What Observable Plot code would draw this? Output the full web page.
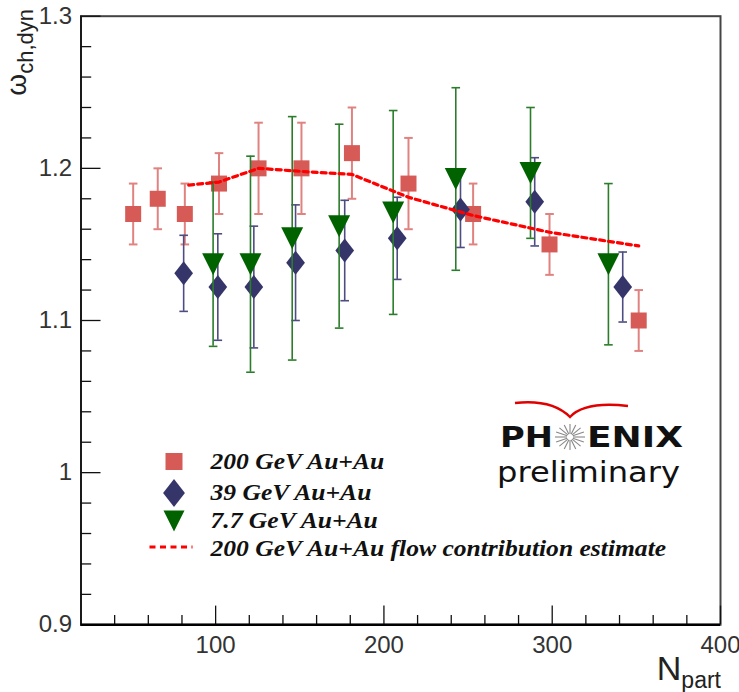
<!DOCTYPE html>
<html><head><meta charset="utf-8">
<script src="https://cdn.jsdelivr.net/npm/d3@7"></script>
<script src="https://cdn.jsdelivr.net/npm/@observablehq/plot@0.6"></script>
<style>body{margin:0;background:#fff;} svg{display:block;}</style>
</head><body><div id="chart"></div>
<script>
// ---- data ----
const npart200 = [51, 65.6, 81.7, 102, 125.5, 151, 181, 214.6, 253, 298.4, 351.4];
const omega200 = [1.170, 1.180, 1.170, 1.190, 1.200, 1.200, 1.210, 1.190, 1.170, 1.150, 1.100];
const err200   = [0.020, 0.020, 0.020, 0.020, 0.030, 0.030, 0.030, 0.030, 0.020, 0.020, 0.020];

const npart39 = [81, 101.3, 122.7, 147.5, 176.7, 207.9, 245.5, 289.6, 341.9];
const omega39 = [1.131, 1.122, 1.122, 1.138, 1.146, 1.154, 1.173, 1.178, 1.122];
const err39   = [0.025, 0.035, 0.040, 0.038, 0.033, 0.027, 0.025, 0.029, 0.023];

const npart77 = [98.5, 120.7, 145.5, 173.4, 205.5, 242.7, 287.1, 333.4];
const omega77 = [1.137, 1.137, 1.154, 1.162, 1.171, 1.193, 1.197, 1.137];
const err77   = [0.054, 0.071, 0.080, 0.067, 0.067, 0.060, 0.043, 0.053];

const npartFlow = [84, 102, 125.5, 151, 181, 214.6, 253, 298.4, 351.4];
const omegaFlow = [1.189, 1.191, 1.200, 1.198, 1.196, 1.181, 1.169, 1.158, 1.149];

const xMajor = [100, 200, 300, 400];
const xTickLabels = ["100", "200", "300", "400"];
const xMinor = [40, 60, 80, 120, 140, 160, 180, 220, 240, 260, 280, 320, 340, 360, 380];
const yMajor = [0.9, 1.0, 1.1, 1.2, 1.3];
const yTickLabels = ["0.9", "1", "1.1", "1.2", "1.3"];
const yMinor = [0.92, 0.94, 0.96, 0.98, 1.02, 1.04, 1.06, 1.08, 1.12, 1.14, 1.16, 1.18, 1.22, 1.24, 1.26, 1.28];

const legendLabels = ["200 GeV Au+Au", "39 GeV Au+Au", "7.7 GeV Au+Au", "200 GeV Au+Au flow contribution estimate"];

// ---- layout ----
const W = 739, H = 692;
const mL = 80.5, mR = 19, mT = 15.7, mB = 67.7;
const fW = W - mL - mR, fH = H - mT - mB;

const col200 = "#d65a56", bar200 = "#e08380";
const col39 = "#35356a", bar39 = "#4d4d82";
const col77 = "#006300", bar77 = "#2b7d2b";
const colFlow = "#ff0000";

function sym(fn) { return {draw(c, size) { const r = Math.sqrt(size / Math.PI); fn(c, r); }}; }
const capSym = sym((c, r) => { c.moveTo(-r, 0); c.lineTo(r, 0); });
const squareSym = sym((c, r) => { c.rect(-r, -r, 2 * r, 2 * r); });
const diamondSym = sym((c, r) => { c.moveTo(0, -r); c.lineTo(r * 0.78, 0); c.lineTo(0, r); c.lineTo(-r * 0.78, 0); c.closePath(); });
const triSym = sym((c, r) => { c.moveTo(-r, -r); c.lineTo(r, -r); c.lineTo(0, r); c.closePath(); });

const rows = (xs, ys, es) => xs.map((x, i) => ({x, y: ys[i], e: es[i]}));
const s200 = rows(npart200, omega200, err200);
const s39 = rows(npart39, omega39, err39);
const s77 = rows(npart77, omega77, err77);
const flow = npartFlow.map((x, i) => ({x, y: omegaFlow[i]}));

function seriesMarks(data, markCol, barCol, barW, symbol, r) {
  return [
    Plot.ruleX(data, {x: "x", y1: d => d.y - d.e, y2: d => d.y + d.e, stroke: barCol, strokeWidth: barW}),
    Plot.dot(data, {x: "x", y: d => d.y + d.e, symbol: capSym, r: 4.3, stroke: barCol, strokeWidth: barW, fill: "none"}),
    Plot.dot(data, {x: "x", y: d => d.y - d.e, symbol: capSym, r: 4.3, stroke: barCol, strokeWidth: barW, fill: "none"}),
    Plot.dot(data, {x: "x", y: "y", symbol, r, fill: markCol, stroke: "none"})
  ];
}

// legend (pixel offsets from frame top-left)
const legX = 173.5 - mL, legTextX = 210 - mL;
const legY = [461 - mT, 491.5 - mT, 519.5 - mT, 547.5 - mT];
const dashSym = sym((c, r) => { c.moveTo(-r, 0); c.lineTo(r, 0); });
const legendMarks = [
  Plot.dot([0], {frameAnchor: "top-left", dx: legX, dy: legY[0], symbol: squareSym, r: 8.5, fill: col200, stroke: "none"}),
  Plot.dot([0], {frameAnchor: "top-left", dx: legX, dy: legY[1] + 1, symbol: diamondSym, r: 14, fill: col39, stroke: "none"}),
  Plot.dot([0], {frameAnchor: "top-left", dx: legX, dy: legY[2] + 1, symbol: triSym, r: 10.5, fill: col77, stroke: "none"}),
  Plot.dot([0], {frameAnchor: "top-left", dx: 170.5 - mL, dy: legY[3] - 1, symbol: dashSym, r: 21.5, fill: "none", stroke: colFlow, strokeWidth: 3, strokeDasharray: "6,4.5"}),
  ...legendLabels.map((t, i) => Plot.text([t], {frameAnchor: "top-left", dx: legTextX, dy: legY[i], textAnchor: "start", lineAnchor: "middle",
    fontFamily: "Liberation Serif", fontWeight: "bold", fontStyle: "italic", fontSize: 24, fill: "#111"}))
];

const chart = Plot.plot({
  width: W, height: H,
  marginLeft: mL, marginRight: mR, marginTop: mT, marginBottom: mB,
  style: {fontFamily: "Liberation Sans, Arial, sans-serif", background: "#fff", color: "#333", overflow: "visible"},
  x: {domain: [20, 400], axis: null},
  y: {domain: [0.9, 1.3], axis: null},
  marks: [
    Plot.frame({stroke: "#444", strokeWidth: 2}),
    // ticks (inward)
    Plot.ruleX(xMajor, {x: d => d, insetTop: fH - 18.7, stroke: "#111", strokeWidth: 1.3}),
    Plot.ruleX(xMinor, {x: d => d, insetTop: fH - 9.3, stroke: "#111", strokeWidth: 1.3}),
    Plot.ruleY(yMajor, {y: d => d, insetRight: fW - 20, stroke: "#111", strokeWidth: 1.3}),
    Plot.ruleY(yMinor, {y: d => d, insetRight: fW - 10.7, stroke: "#111", strokeWidth: 1.3}),
    Plot.ruleX([20], {stroke: "#111", strokeWidth: 1.6}),
    Plot.ruleY([0.9], {stroke: "#000", strokeWidth: 2.6}),
    // tick labels
    Plot.axisX({ticks: xMajor, tickSize: 0, tickPadding: 11, fontSize: 24, label: null,
      tickFormat: d => xTickLabels[xMajor.indexOf(d)], fill: "#333"}),
    Plot.axisY({ticks: yMajor, tickSize: 0, tickPadding: 9, fontSize: 24, label: null,
      tickFormat: d => yTickLabels[yMajor.indexOf(d)], fill: "#333"}),
    // data
    ...seriesMarks(s200, col200, bar200, 2, squareSym, 8),
    ...seriesMarks(s39, col39, bar39, 1.6, diamondSym, 12),
    ...seriesMarks(s77, col77, bar77, 1.6, triSym, 11),
    Plot.line(flow, {x: "x", y: "y", stroke: colFlow, strokeWidth: 3.2, strokeDasharray: "5,4"}),
    ...legendMarks
  ]
});

document.getElementById("chart").appendChild(chart);
const svg = d3.select(chart);

// stretch legend texts slightly (reference uses a wider serif face)
svg.selectAll("text").filter(function () { return legendLabels.includes(this.textContent); }).each(function () {
  const len = this.getComputedTextLength();
  if (len > 0) d3.select(this).attr("textLength", (len * 1.065).toFixed(1)).attr("lengthAdjust", "spacingAndGlyphs");
});

// y axis title: omega_{ch,dyn}
const yt = svg.append("text")
  .attr("transform", "translate(26,9) rotate(-90)")
  .attr("text-anchor", "end")
  .attr("font-family", "Liberation Sans, Arial, sans-serif")
  .attr("font-size", 28).attr("fill", "#222");
yt.append("tspan").text("ω");
yt.append("tspan").attr("dy", 7).attr("font-size", 22).text("ch,dyn");
// x axis title: N_part
const xt = svg.append("text")
  .attr("x", 721).attr("y", 680)
  .attr("text-anchor", "end")
  .attr("font-family", "Liberation Sans, Arial, sans-serif")
  .attr("font-size", 34).attr("fill", "#222");
xt.append("tspan").text("N");
xt.append("tspan").attr("dy", 8).attr("font-size", 23).text("part");

// PHENIX preliminary logo
const logo = svg.append("g").attr("text-anchor", "start");
logo.append("path")
  .attr("d", "M515,403 Q552,399 570,417 Q585,401 628,406")
  .attr("fill", "none").attr("stroke", "#e00000").attr("stroke-width", 2.4);
const cx = 570, cy = 437;
for (let k = 0; k < 16; k++) {
  const a = k * Math.PI / 8;
  logo.append("line")
    .attr("x1", cx + 3 * Math.cos(a)).attr("y1", cy + 3 * Math.sin(a))
    .attr("x2", cx + 15 * Math.cos(a)).attr("y2", cy + 13 * Math.sin(a))
    .attr("stroke", "#888").attr("stroke-width", 1.1);
}
logo.append("text").attr("x", 500).attr("y", 447).attr("text-anchor", "start")
  .attr("font-family", "DejaVu Sans, sans-serif").attr("font-weight", "bold").attr("font-size", 28)
  .attr("textLength", 53).attr("lengthAdjust", "spacingAndGlyphs").attr("fill", "#111").text("PH");
logo.append("text").attr("x", 587).attr("y", 447).attr("text-anchor", "start")
  .attr("font-family", "DejaVu Sans, sans-serif").attr("font-weight", "bold").attr("font-size", 28)
  .attr("textLength", 96).attr("lengthAdjust", "spacingAndGlyphs").attr("fill", "#111").text("ENIX");
logo.append("text").attr("x", 497).attr("y", 482).attr("text-anchor", "start")
  .attr("font-family", "DejaVu Sans, sans-serif").attr("font-size", 29)
  .attr("textLength", 183).attr("lengthAdjust", "spacingAndGlyphs").attr("fill", "#111").text("preliminary");
</script>
</body></html>
